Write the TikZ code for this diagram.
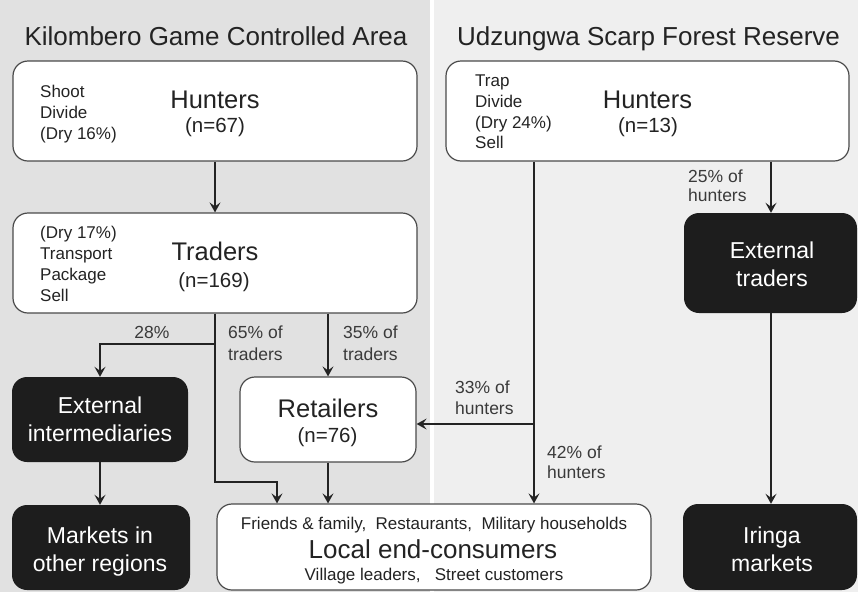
\documentclass[tikz,border=0pt]{standalone}
\usepackage{fontspec}
\setmainfont{Liberation Sans}
\usetikzlibrary{arrows.meta}
\definecolor{lpanel}{HTML}{E1E1E1}
\definecolor{rpanel}{HTML}{EFEFEF}
\definecolor{ink}{HTML}{232323}
\definecolor{lbltext}{HTML}{3A3A3A}
\definecolor{blk}{HTML}{1D1D1D}
\definecolor{edge}{HTML}{4A4A4A}
\begin{document}
\begin{tikzpicture}[x=1pt,y=-1pt,
  wbox/.style={draw=edge, line width=1.2pt, fill=white, rounded corners=15pt, inner sep=0pt},
  bbox/.style={fill=blk, rounded corners=15pt, inner sep=0pt},
  ttl/.style={font=\fontsize{26}{30}\selectfont, text=ink, inner sep=0pt, anchor=base},
  big/.style={font=\fontsize{25.5}{30}\selectfont, text=ink, inner sep=0pt, anchor=base},
  mid/.style={font=\fontsize{20.5}{24}\selectfont, text=ink, inner sep=0pt, anchor=base},
  sml/.style={font=\fontsize{17}{20}\selectfont, text=ink, inner sep=0pt, anchor=base west},
  smc/.style={font=\fontsize{17}{20}\selectfont, text=ink, inner sep=0pt, anchor=base},
  wt/.style={font=\fontsize{23}{28}\selectfont, text=white, inner sep=0pt, anchor=base},
  lbl/.style={font=\fontsize{17.5}{20}\selectfont, text=lbltext, inner sep=0pt, anchor=base west},
  lblc/.style={font=\fontsize{17.5}{20}\selectfont, text=lbltext, inner sep=0pt, anchor=base},
  conn/.style={draw=ink, line width=1.6pt, -{Stealth[length=10pt,width=11pt,inset=4pt]}}]

\useasboundingbox (0,0) rectangle (858,592);
\fill[lpanel] (0,0) rectangle (429.5,592);
\fill[rpanel] (433.5,0) rectangle (858,592);

% titles
\node[ttl] (t1) at (216,45) {Kilombero Game Controlled Area};
\node[ttl] (t2) at (648.5,45) {Udzungwa Scarp Forest Reserve};

% boxes
\node[wbox, minimum width=404pt, minimum height=100pt] (kh) at (215,111) {};
\node[wbox, minimum width=403pt, minimum height=100pt] (rh) at (647.5,111) {};
\node[wbox, minimum width=404pt, minimum height=100pt] (tr) at (215,263) {};
\node[bbox, minimum width=173pt, minimum height=100pt] (et) at (770.5,263) {};
\node[bbox, minimum width=176pt, minimum height=85pt] (ei) at (100,419.5) {};
\node[wbox, minimum width=176pt, minimum height=85pt] (re) at (328,419.5) {};
\node[bbox, minimum width=178pt, minimum height=85pt] (mo) at (101,547.5) {};
\node[wbox, minimum width=434pt, minimum height=86pt] (lc) at (434,547) {};
\node[bbox, minimum width=174pt, minimum height=86pt] (im) at (770,547) {};

% Kilombero hunters text
\node[big] (khh) at (215,108) {Hunters};
\node[mid] (khn) at (215,132) {(n=67)};
\node[sml] (kh1) at (40,97) {Shoot};
\node[sml] (kh2) at (40,118) {Divide};
\node[sml] (kh3) at (40,139) {(Dry 16\%)};

% Udzungwa hunters text
\node[big] (rhh) at (647.5,108) {Hunters};
\node[mid] (rhn) at (648,132) {(n=13)};
\node[sml] (rh1) at (475,86) {Trap};
\node[sml] (rh2) at (475,107) {Divide};
\node[sml] (rh3) at (475,128) {(Dry 24\%)};
\node[sml] (rh4) at (475,148) {Sell};

% Traders text
\node[big] (trh) at (215,260) {Traders};
\node[mid] (trn) at (214,287) {(n=169)};
\node[sml] (tr1) at (40,238) {(Dry 17\%)};
\node[sml] (tr2) at (40,259) {Transport};
\node[sml] (tr3) at (40,280) {Package};
\node[sml] (tr4) at (40,301) {Sell};

% black boxes text
\node[wt] (et1) at (772,258) {External};
\node[wt] (et2) at (772,286) {traders};
\node[wt] (ei1) at (100,413) {External};
\node[wt] (ei2) at (100,441) {intermediaries};
\node[wt] (mo1) at (100,543) {Markets in};
\node[wt] (mo2) at (100,571) {other regions};
\node[wt] (im1) at (772,543) {Iringa};
\node[wt] (im2) at (772,571) {markets};

% retailers
\node[big] (reh) at (328,417) {Retailers};
\node[mid] (ren) at (327.5,442) {(n=76)};

% local end consumers
\node[smc] (lc1) at (434,529) {Friends \& family,\ \ Restaurants,\ \ Military households};
\node[big, font=\fontsize{26}{30}\selectfont] (lch) at (433,558) {Local end-consumers};
\node[smc] (lc2) at (434,580) {Village leaders,\ \ \ Street customers};

% connector labels
\node[lblc] (l28) at (152,338) {28\%};
\node[lbl] (l65a) at (228,338) {65\% of};
\node[lbl] (l65b) at (228,360) {traders};
\node[lbl] (l35a) at (343,338) {35\% of};
\node[lbl] (l35b) at (343,360) {traders};
\node[lbl] (l25a) at (688,182) {25\% of};
\node[lbl] (l25b) at (688,201) {hunters};
\node[lbl] (l33a) at (455,393) {33\% of};
\node[lbl] (l33b) at (455,414) {hunters};
\node[lbl] (l42a) at (547,458) {42\% of};
\node[lbl] (l42b) at (547,478) {hunters};

% connectors
\coordinate (k28) at (215,344);
\coordinate (k65) at (277,482);
\coordinate (r1) at (534,424);
\coordinate (cx) at (771,300);

\draw[conn] (kh.south) -- (tr.north);
\draw[conn] (tr.south) |- (k28) -| (ei.north);
\draw[conn] (tr.south) |- (k65) -- (k65 |- lc.north);
\draw[conn] (tr.south -| re.north) -- (re.north);
\draw[conn] (re.south) -- (re.south |- lc.north);
\draw[conn] (ei.south) -- (ei.south |- mo.north);
\draw[conn] (r1 |- rh.south) -- (r1 |- lc.north);
\draw[conn] (r1) -- (r1 -| re.east);
\draw[conn] (cx |- rh.south) -- (cx |- et.north);
\draw[conn] (cx |- et.south) -- (cx |- im.north);
\end{tikzpicture}
\end{document}
